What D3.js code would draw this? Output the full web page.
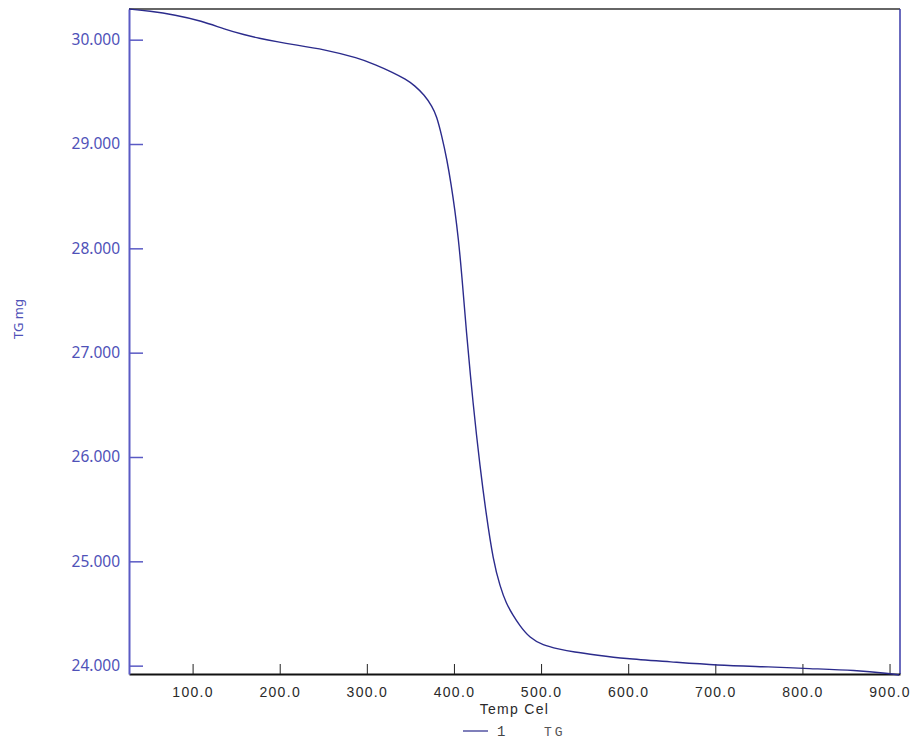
<!DOCTYPE html>
<html>
<head>
<meta charset="utf-8">
<script src="https://cdn.jsdelivr.net/npm/d3@7"></script>
<style>
  body { margin: 0; background: #fff; }
</style>
</head>
<body>
<div id="chart"></div>
<script>
// TG curve (temperature in Cel, mass in mg)
const temps = [27, 50, 80, 110, 137, 160, 175, 200, 214, 252, 290, 310, 329, 345, 355, 366, 375, 380, 386, 392, 397, 401, 405, 409, 414, 422, 430, 437, 445, 453, 460, 468, 475, 487, 502, 520, 537, 565, 594, 650, 700, 765, 805, 862, 900, 911];
const tgValues = [30.294, 30.275, 30.237, 30.18, 30.1, 30.045, 30.015, 29.975, 29.955, 29.905, 29.825, 29.76, 29.69, 29.62, 29.56, 29.47, 29.36, 29.27, 29.08, 28.85, 28.6, 28.37, 28.1, 27.75, 27.22, 26.5, 25.9, 25.45, 25.01, 24.756, 24.596, 24.48, 24.39, 24.265, 24.197, 24.16, 24.131, 24.1, 24.068, 24.036, 24.004, 23.988, 23.972, 23.956, 23.924, 23.91];

const xTicks = [100, 200, 300, 400, 500, 600, 700, 800, 900];
const yTicks = [24, 25, 26, 27, 28, 29, 30];

const width = 913;
const height = 744;
const margin = { top: 9, right: 13, bottom: 70, left: 129 };

const blue = "#4f52b8";
const curveColor = "#2b2b8c";

const svg = d3.select("#chart")
  .append("svg")
  .attr("width", width)
  .attr("height", height);

const x = d3.scaleLinear()
  .domain([27, 912])
  .range([margin.left, width - margin.right]);

const y = d3.scaleLinear()
  .domain([23.92, 30.294])
  .range([height - margin.bottom, margin.top]);

// frame: top dark, right blue
svg.append("line")
  .attr("x1", margin.left).attr("x2", width - margin.right)
  .attr("y1", margin.top).attr("y2", margin.top)
  .attr("stroke", "#333")
  .attr("stroke-width", 1.5);

svg.append("line")
  .attr("x1", width - margin.right).attr("x2", width - margin.right)
  .attr("y1", margin.top).attr("y2", height - margin.bottom)
  .attr("stroke", "#3a3aa8")
  .attr("stroke-width", 1.5);

// x axis, ticks pointing up into the plot
const xAxis = svg.append("g")
  .attr("transform", `translate(0,${height - margin.bottom})`)
  .call(d3.axisBottom(x)
    .tickValues(xTicks)
    .tickSizeInner(-10)
    .tickSizeOuter(0)
    .tickPadding(13)
    .tickFormat(d3.format(".1f")));

xAxis.select(".domain").attr("stroke", "#111").attr("stroke-width", 2);
xAxis.selectAll(".tick line").attr("stroke", "#222");
xAxis.selectAll(".tick text")
  .attr("fill", "#2a2a2a")
  .style("font-family", "Liberation Sans, Arial, sans-serif")
  .style("font-size", "14px")
  .style("letter-spacing", "1.3px");

// y axis, ticks pointing right into the plot
const yAxis = svg.append("g")
  .attr("transform", `translate(${margin.left},0)`)
  .call(d3.axisLeft(y)
    .tickValues(yTicks)
    .tickSizeInner(-14)
    .tickSizeOuter(0)
    .tickPadding(9)
    .tickFormat(d3.format(".3f")));

yAxis.select(".domain").attr("stroke", "#5a5ac4").attr("stroke-width", 2);
yAxis.selectAll(".tick line").attr("stroke", "#5a5ac4").attr("stroke-width", 1.5);
yAxis.selectAll(".tick text")
  .attr("fill", blue)
  .style("font-family", "Noto Sans, sans-serif")
  .style("font-size", "15.5px");

// TG curve
const line = d3.line()
  .x((d, i) => x(temps[i]))
  .y(d => y(d))
  .curve(d3.curveBasis);

svg.append("path")
  .datum(tgValues)
  .attr("fill", "none")
  .attr("stroke", curveColor)
  .attr("stroke-width", 1.4)
  .attr("d", line);

// axis titles
svg.append("text")
  .attr("transform", "translate(23,319) rotate(-90)")
  .attr("text-anchor", "middle")
  .attr("fill", blue)
  .style("font-family", "Noto Sans, sans-serif")
  .style("font-size", "13px")
  .text("TG mg");

svg.append("text")
  .attr("x", (margin.left + width - margin.right) / 2)
  .attr("y", 714)
  .attr("text-anchor", "middle")
  .attr("fill", "#2a2a2a")
  .style("font-family", "Liberation Sans, Arial, sans-serif")
  .style("font-size", "14px")
  .style("letter-spacing", "1.3px")
  .text("Temp Cel");

// legend
const legend = svg.append("g").attr("transform", "translate(463,731)");

legend.append("line")
  .attr("x1", 0).attr("x2", 25)
  .attr("y1", 0).attr("y2", 0)
  .attr("stroke", curveColor)
  .attr("stroke-width", 1.2);

legend.append("text")
  .attr("x", 34).attr("y", 5)
  .attr("fill", "#444")
  .style("font-family", "Liberation Mono, monospace")
  .style("font-size", "14px")
  .text("1");

legend.append("text")
  .attr("x", 81).attr("y", 5)
  .attr("fill", "#555")
  .style("font-family", "Liberation Mono, monospace")
  .style("font-size", "13px")
  .style("letter-spacing", "3px")
  .text("TG");
</script>
</body>
</html>
